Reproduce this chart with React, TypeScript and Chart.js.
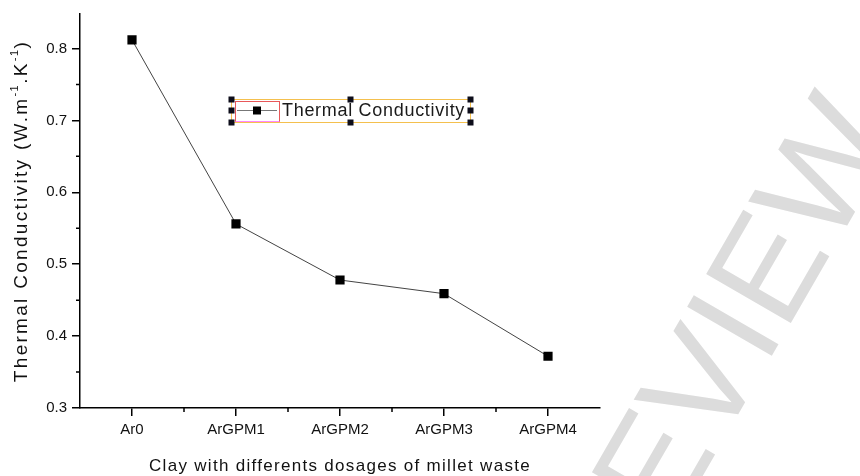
import React, { useEffect, useRef } from 'react';
import { Chart, registerables } from 'chart.js';

Chart.register(...registerables);

const categories = ['Ar0', 'ArGPM1', 'ArGPM2', 'ArGPM3', 'ArGPM4'];
const conductivity = [0.812, 0.556, 0.478, 0.459, 0.372];
const yMajorTicks = [0.3, 0.4, 0.5, 0.6, 0.7, 0.8];
const yMinorTicks = [0.35, 0.45, 0.55, 0.65, 0.75];
const seriesLabel = 'Thermal Conductivity';
const xTitle = 'Clay with differents dosages of millet waste';
const yTitleParts: { text: string; sup: boolean }[] = [
  { text: 'Thermal Conductivity (W.m', sup: false },
  { text: '-1', sup: true },
  { text: '.K', sup: false },
  { text: '-1', sup: true },
  { text: ')', sup: false },
];
const watermark = 'PREVIEW';

const FONT = "'Liberation Sans', Arial, sans-serif";

const decorPlugin = {
  id: 'decor',
  beforeDraw(chart: any) {
    const ctx: CanvasRenderingContext2D = chart.ctx;
    ctx.save();
    ctx.fillStyle = '#ffffff';
    ctx.fillRect(0, 0, chart.width, chart.height);
    // watermark
    ctx.translate(572, 702);
    ctx.rotate(-Math.PI / 3);
    ctx.font = `142px ${FONT}`;
    ctx.fillStyle = '#dcdcdc';
    ctx.textAlign = 'left';
    ctx.textBaseline = 'alphabetic';
    ctx.fillText(watermark, 0, 0);
    ctx.restore();
  },
  afterDraw(chart: any) {
    const ctx: CanvasRenderingContext2D = chart.ctx;
    const { left, right, top, bottom } = chart.chartArea;
    const xs = chart.scales.x;
    const ys = chart.scales.y;
    ctx.save();
    // minor ticks
    ctx.strokeStyle = '#000';
    ctx.lineWidth = 1.5;
    ctx.beginPath();
    for (let i = 0; i < categories.length - 1; i++) {
      const px = (xs.getPixelForValue(i) + xs.getPixelForValue(i + 1)) / 2;
      ctx.moveTo(px, bottom);
      ctx.lineTo(px, bottom + 4);
    }
    for (const v of yMinorTicks) {
      const py = ys.getPixelForValue(v);
      ctx.moveTo(left, py);
      ctx.lineTo(left - 4, py);
    }
    ctx.stroke();

    // x title
    ctx.fillStyle = '#111';
    ctx.font = `17px ${FONT}`;
    (ctx as any).letterSpacing = '1.3px';
    ctx.textAlign = 'center';
    ctx.textBaseline = 'middle';
    ctx.fillText(xTitle, (left + right) / 2, 466);

    // y title (rotated, with superscripts)
    ctx.save();
    ctx.translate(22, (top + bottom) / 2);
    ctx.rotate(-Math.PI / 2);
    ctx.textAlign = 'left';
    ctx.textBaseline = 'middle';
    const mainFont = `19px ${FONT}`;
    const supFont = `11px ${FONT}`;
    let total = 0;
    for (const p of yTitleParts) {
      ctx.font = p.sup ? supFont : mainFont;
      (ctx as any).letterSpacing = p.sup ? '1.5px' : '2.3px';
      total += ctx.measureText(p.text).width;
    }
    let cx = -total / 2;
    for (const p of yTitleParts) {
      ctx.font = p.sup ? supFont : mainFont;
      (ctx as any).letterSpacing = p.sup ? '1.5px' : '2.3px';
      ctx.fillText(p.text, cx, p.sup ? -7 : 0);
      cx += ctx.measureText(p.text).width;
    }
    ctx.restore();

    // legend (as in the reference, with selection frame)
    const lx = left + 151;
    const ly = top + 85;
    const lw = 239;
    const lh = 23;
    (ctx as any).letterSpacing = '0px';
    ctx.lineWidth = 1;
    ctx.strokeStyle = '#f4c04e';
    ctx.strokeRect(lx + 0.5, ly + 0.5, lw, lh);
    ctx.strokeStyle = '#e8585a';
    ctx.strokeRect(lx + 4.5, ly + 2.5, 44, 20);
    ctx.strokeStyle = '#ff88ff';
    ctx.beginPath();
    ctx.moveTo(lx + 4.5, ly + 22.5);
    ctx.lineTo(lx + 48.5, ly + 22.5);
    ctx.stroke();
    ctx.strokeStyle = '#777';
    ctx.lineWidth = 1.2;
    ctx.beginPath();
    ctx.moveTo(lx + 6, ly + 11.5);
    ctx.lineTo(lx + 46, ly + 11.5);
    ctx.stroke();
    ctx.fillStyle = '#000';
    ctx.fillRect(lx + 26 - 4, ly + 11.5 - 4, 8, 8);
    ctx.font = `18px ${FONT}`;
    (ctx as any).letterSpacing = '0.7px';
    ctx.fillStyle = '#1a1a1a';
    ctx.textAlign = 'left';
    ctx.textBaseline = 'middle';
    ctx.fillText(seriesLabel, lx + 51, ly + 12);
    (ctx as any).letterSpacing = '0px';
    // handles
    ctx.fillStyle = '#0d0d1a';
    const hx = [lx + 0.5, lx + 119.5, lx + lw + 0.5];
    const hy = [ly + 0.5, ly + 11.5, ly + lh + 0.5];
    for (let i = 0; i < 3; i++) {
      for (let j = 0; j < 3; j++) {
        if (i === 1 && j === 1) continue;
        ctx.fillRect(hx[i] - 3, hy[j] - 3, 6, 6);
      }
    }
    ctx.restore();
  },
};

export default function App() {
  const ref = useRef<HTMLCanvasElement | null>(null);
  useEffect(() => {
    document.body.style.margin = '0';
    const canvas = ref.current;
    if (!canvas) return;
    const chart = new Chart(canvas, {
      type: 'line',
      data: {
        labels: categories,
        datasets: [
          {
            label: seriesLabel,
            data: conductivity,
            borderColor: '#444',
            borderWidth: 1,
            backgroundColor: '#000',
            pointStyle: 'rect',
            pointRadius: 6.5,
            pointBorderWidth: 0,
            pointBackgroundColor: '#000',
            tension: 0,
          },
        ],
      },
      options: {
        responsive: false,
        animation: false,
        devicePixelRatio: 1,
        layout: { padding: { top: 8, right: 260, left: 0, bottom: 0 } },
        plugins: {
          legend: { display: false },
          tooltip: { enabled: false },
          title: { display: false },
        },
        scales: {
          x: {
            type: 'category',
            offset: true,
            grid: {
              display: true,
              drawOnChartArea: false,
              drawTicks: true,
              tickLength: 8,
              color: '#000',
              lineWidth: 1.5,
              offset: false,
            },
            border: { display: true, color: '#000', width: 1.5 },
            ticks: {
              color: '#111',
              font: { family: FONT, size: 15 },
              padding: 5,
              maxRotation: 0,
              autoSkip: false,
            },
            afterFit: (s: any) => {
              s.height = 68;
            },
          },
          y: {
            type: 'linear',
            min: 0.3,
            max: 0.848,
            afterBuildTicks: (s: any) => {
              s.ticks = yMajorTicks.map((v) => ({ value: v }));
            },
            grid: {
              display: true,
              drawOnChartArea: false,
              drawTicks: true,
              tickLength: 8,
              color: '#000',
              lineWidth: 1.5,
            },
            border: { display: true, color: '#000', width: 1.5 },
            ticks: {
              color: '#111',
              font: { family: FONT, size: 15 },
              padding: 5,
              callback: (v: any) => Number(v).toFixed(1),
            },
            afterFit: (s: any) => {
              s.width = 80;
            },
          },
        },
      },
      plugins: [decorPlugin],
    });
    return () => chart.destroy();
  }, []);
  return (
    <div style={{ width: 860, height: 476 }}>
      <canvas ref={ref} width={860} height={476} />
    </div>
  );
}
